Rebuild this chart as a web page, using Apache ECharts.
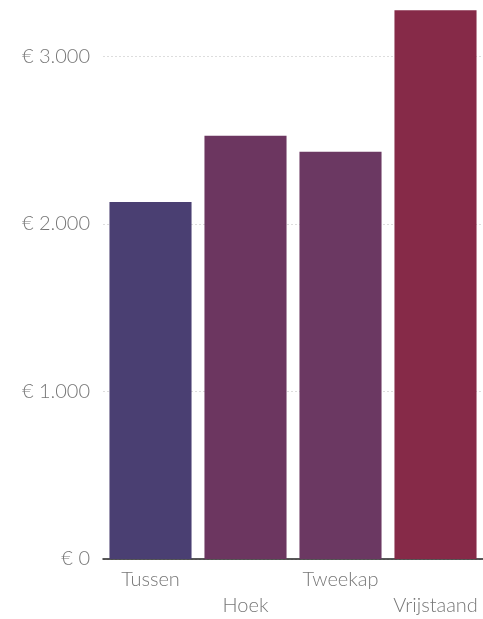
<!DOCTYPE html>
<html>
<head>
<meta charset="utf-8">
<script src="https://cdn.jsdelivr.net/npm/echarts@6/dist/echarts.min.js"></script>
<style>
html,body{margin:0;padding:0;background:#fff;}
#chart{width:483px;height:619px;}
</style>
</head>
<body>
<div id="chart"></div>
<script>
const categories=["Tussen","Hoek","Tweekap","Vrijstaand"];
const prijzen=[2130,2525,2430,3275];
const kleuren=["#4a3f72","#6c3660","#6b3862","#862a48"];
const yTicks=[0,1000,2000,3000];

const chart=echarts.init(document.getElementById("chart"));

function euro(v){
    return "€ "+String(v).replace(/\B(?=(\d{3})+(?!\d))/g,".");
}

chart.setOption({
    animation:false,
    grid:{left:103,right:-3,top:6,bottom:59,containLabel:false},
    xAxis:{
        type:"category",
        data:categories,
        axisTick:{show:false},
        axisLine:{lineStyle:{color:"#222",width:1.5}},
        axisLabel:{
            interval:0,
            color:"#777",
            fontFamily:"Lato",
            fontWeight:300,
            fontSize:20,
            lineHeight:26,
            margin:8,
            formatter:(v,i)=>i%2===1?"\n"+v:v
        }
    },
    yAxis:{
        type:"value",
        min:0,
        max:3300,
        interval:1000,
        axisLine:{show:false},
        axisTick:{show:false},
        splitLine:{showMaxLine:false,lineStyle:{color:"#ddd",type:[2,2]}},
        axisLabel:{
            color:"#777",
            fontFamily:"Lato",
            fontWeight:300,
            fontSize:20,
            margin:13,
            showMaxLabel:false,
            formatter:v=>yTicks.includes(v)?euro(v):""
        }
    },
    series:[{
        type:"bar",
        barCategoryGap:"13.6%",
        data:prijzen.map((v,i)=>({value:v,itemStyle:{color:kleuren[i]}}))
    }]
});
</script>
</body>
</html>
